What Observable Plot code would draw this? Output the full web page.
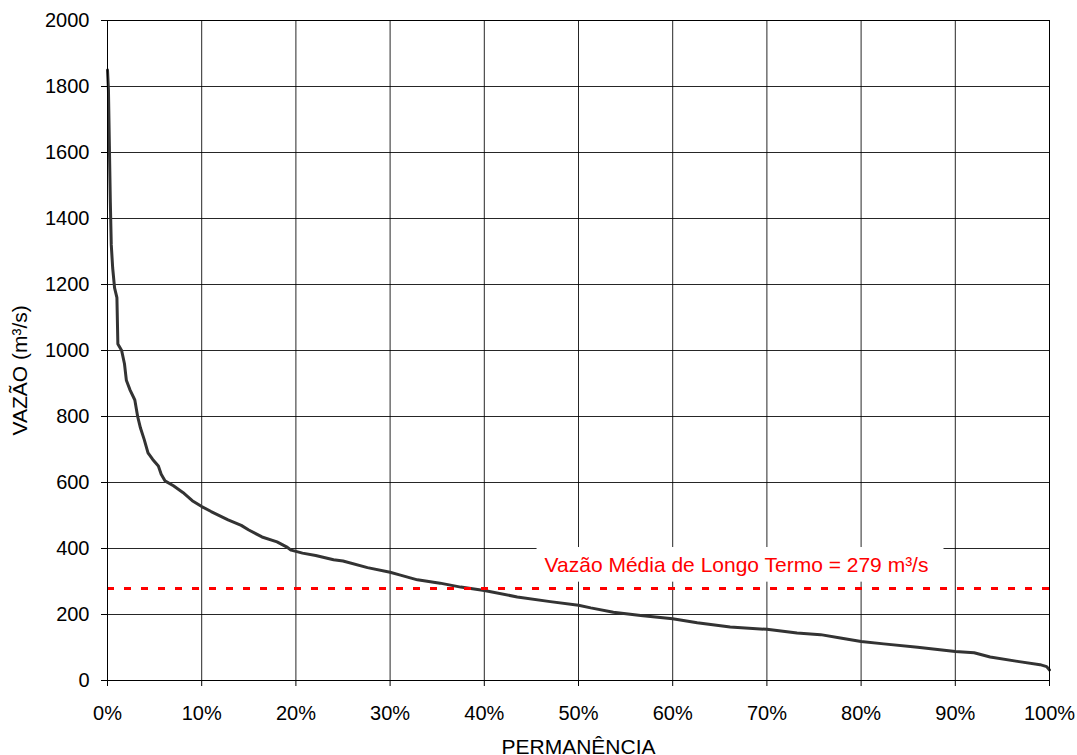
<!DOCTYPE html>
<html>
<head>
<meta charset="utf-8">
<script src="https://cdn.jsdelivr.net/npm/d3@7"></script>
<script src="https://cdn.jsdelivr.net/npm/@observablehq/plot@0.6"></script>
<style>
  html, body { margin: 0; padding: 0; background: #fff; }
</style>
</head>
<body>
<div id="chart"></div>
<script>
// Permanência (%) and vazão (m³/s)
const permanencia = [0, 0.1, 0.2, 0.3, 0.4, 0.55, 0.75, 1.0, 1.1, 1.5, 1.8, 2.0, 2.4, 2.9, 3.2, 3.5, 3.9, 4.3, 4.8, 5.4, 5.7, 6.1, 7.0, 8.0, 9.0, 10.0, 11.0, 12.8, 14.2, 15.0, 16.4, 18.0, 19.0, 19.5, 20.7, 22.1, 24.0, 25.0, 27.6, 30.0, 31.0, 32.9, 35.3, 37.5, 40.0, 43.5, 47.0, 50.0, 51.3, 53.7, 56.6, 60.0, 62.6, 66.1, 70.0, 73.2, 75.7, 77.8, 80.0, 82.4, 86.0, 90.0, 92.0, 93.7, 96.6, 99.0, 99.7, 100];
const vazao = [1850, 1790, 1620, 1450, 1320, 1250, 1190, 1160, 1020, 1000, 960, 910, 880, 850, 800, 765, 730, 690, 670, 650, 625, 605, 590, 570, 545, 527, 512, 487, 470, 456, 435, 420, 405, 395, 386, 379, 366, 362, 342, 328, 320, 305, 295, 283, 273, 253, 239, 228, 220, 207, 197, 187, 175, 162, 155, 144, 139, 129, 118, 111, 101, 88, 84, 71, 58, 48, 42, 32];

const mediaLongoTermo = 279;
const mediaLabel = "Vazão Média de Longo Termo = 279 m³/s";
const xTicks = [0, 10, 20, 30, 40, 50, 60, 70, 80, 90, 100];
const yTicks = [0, 200, 400, 600, 800, 1000, 1200, 1400, 1600, 1800, 2000];
const xLabel = "PERMANÊNCIA";
const yLabel = "VAZÃO (m³/s)";

// annotation anchors (data units)
const labelX = 46.4, labelY = 350;
const boxX = [45.6, 88.8], boxY = [298, 403];
const yLabelY = 940;

const data = permanencia.map((p, i) => ({p, v: vazao[i]}));

const chart = Plot.plot({
  width: 1077,
  height: 755,
  marginTop: 20,
  marginRight: 28,
  marginBottom: 75,
  marginLeft: 107,
  style: {fontFamily: "'Liberation Sans', Arial, sans-serif", fontSize: "20px", color: "#000", background: "#fff"},
  x: {domain: [0, 100], label: null},
  y: {domain: [0, 2000], label: null},
  marks: [
    Plot.gridX(xTicks, {stroke: "#000", strokeOpacity: 0.85}),
    Plot.gridY(yTicks, {stroke: "#000", strokeOpacity: 0.85}),
    Plot.rect([mediaLabel], {x1: () => boxX[0], x2: () => boxX[1], y1: () => boxY[0], y2: () => boxY[1], fill: "#fff"}),
    Plot.line(data, {x: "p", y: "v", stroke: "#333", strokeWidth: 3, strokeLinejoin: "round"}),
    Plot.ruleY([mediaLongoTermo], {stroke: "#ff0000", strokeWidth: 3, strokeDasharray: "7,10"}),
    Plot.text([mediaLabel], {x: () => labelX, y: () => labelY, text: d => d, fill: "#ff0000", textAnchor: "start", lineAnchor: "middle", fontSize: 21}),
    Plot.axisX(xTicks, {tickSize: 6, tickPadding: 19, tickFormat: d => d + "%", label: null, stroke: "#000", fontSize: 20}),
    Plot.axisY(yTicks, {tickSize: 6, tickPadding: 12, tickFormat: d3.format("d"), label: null, stroke: "#000", fontSize: 20}),
    Plot.frame({stroke: "#000"}),
    Plot.text([xLabel], {frameAnchor: "bottom", dy: 67, text: d => d, textAnchor: "middle", lineAnchor: "middle", fontSize: 21}),
    Plot.text([yLabel], {frameAnchor: "left", y: () => yLabelY, dx: -87, rotate: -90, text: d => d, textAnchor: "middle", lineAnchor: "middle", fontSize: 21})
  ]
});
document.getElementById("chart").appendChild(chart);
</script>
</body>
</html>
